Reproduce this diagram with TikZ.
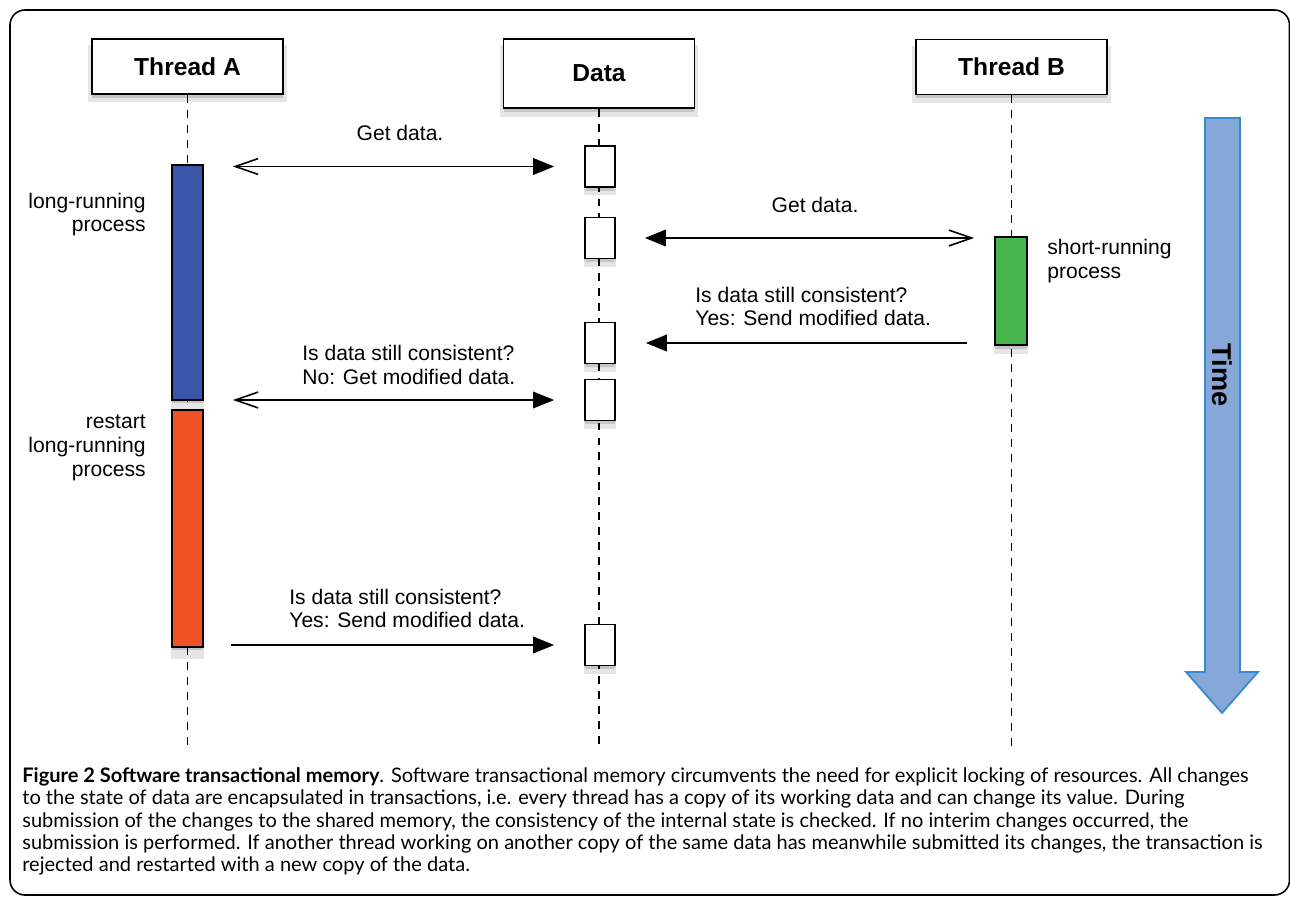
\documentclass[tikz,border=0pt]{standalone}
\usepackage{fontspec}
\setmainfont{Liberation Sans}
\newfontfamily\capfont{Lato}
\usetikzlibrary{arrows.meta,positioning,shadows}
\definecolor{BarBlue}{RGB}{58,86,168}
\definecolor{BarRed}{RGB}{240,82,36}
\definecolor{BarGreen}{RGB}{68,181,74}
\definecolor{TimeFill}{RGB}{134,168,217}
\definecolor{TimeEdge}{RGB}{52,140,204}
\tikzset{
  soft/.style={drop shadow={shadow xshift=0pt,shadow yshift=-2pt,opacity=.14,fill=black},
    drop shadow={shadow xshift=0pt,shadow yshift=-4pt,shadow scale=1.04,opacity=.1,fill=black}},
  lane/.style={draw,line width=1.1pt,fill=white,soft,minimum width=3.82cm,
    minimum height=1.1cm,font=\fontsize{14}{17}\selectfont\bfseries},
  bar/.style={draw,line width=1pt,soft,minimum width=0.62cm,inner sep=0pt},
  slot/.style={draw,line width=1pt,fill=white,soft,minimum width=0.6cm,
    minimum height=0.82cm,inner sep=0pt},
  life/.style={line width=0.8pt,dash pattern=on 4.5pt off 4pt},
  bb/.tip={Straight Barb[length=13pt,width=9pt,line width=0.9pt]},
  tt/.tip={Triangle[length=12pt,width=9.5pt]},
  msg/.style={line width=0.9pt,shorten <=0.58cm,shorten >=0.6cm},
  lbl/.style={font=\fontsize{12}{13.6}\selectfont,inner sep=0pt,align=left}
}

\begin{document}
\begin{tikzpicture}[x=0.02cm,y=-0.02cm]
  \useasboundingbox (0,0) rectangle (1290,898);
  \draw[line width=0.9pt,rounded corners=0.3cm] (10,10) rectangle (1289.5,895);

  % lanes and lifelines
  \node[lane] (ta) at (187.5,66.5) {Thread A};
  \node[lane,minimum height=1.38cm] (dt) at (599,73.5) {Data};
  \node[lane] (tb) at (1011.5,67) {Thread B};
  \coordinate (bottom) at (600,748);
  \draw[life] (ta.south) -- (ta.south |- bottom);
  \draw[life] (dt.south) -- (dt.south |- bottom);
  \draw[life] (tb.south) -- (tb.south |- bottom);

  % processes
  \node[bar,fill=BarBlue,minimum height=4.7cm] (run) at (187.5,282.5) {};
  \node[bar,fill=BarRed,minimum height=4.74cm] (rerun) at (187.5,528.5) {};
  \node[bar,fill=BarGreen,minimum width=0.64cm,minimum height=2.16cm] (short) at (1011,291) {};
  \foreach \n/\y in {1/166.5,2/238,3/343,4/400,5/645}
    \node[slot] (d\n) at (600,\y) {};

  % messages
  \draw[msg,bb-tt] (run.east |- d1.west) -- (d1.west);
  \draw[msg,tt-bb,shorten >=0.4cm] (d2.east) -- (d2.east -| short.west);
  \draw[msg,-tt,shorten <=0.54cm] (short.west |- d3.east) -- (d3.east);
  \draw[msg,bb-tt] (run.east |- d4.west) -- (d4.west);
  \draw[msg,-tt,shorten <=0.54cm] (rerun.east |- d5.west) -- (d5.west);

  \node[lbl] (get1) at (400,133) {Get data.};
  \node[lbl] (get2) at (815,205) {Get data.};
  \node[lbl,anchor=west] (send1) at (695,306.5) {Is data still consistent?\\Yes: Send modified data.};
  \node[lbl,anchor=west] (retry) at (302,365) {Is data still consistent?\\No: Get modified data.};
  \node[lbl,anchor=west] (send2) at (289,608.5) {Is data still consistent?\\Yes: Send modified data.};
  \node[lbl,anchor=east,align=right] (longlbl) at (146,214.5) {long-running\\process};
  \node[lbl,anchor=east,align=right] (restartlbl) at (146,447.5) {restart\\long-running\\process};
  \node[lbl,anchor=west] (shortlbl) at (1047,261) {short-running\\process};

  % time axis
  \filldraw[fill=TimeFill,draw=TimeEdge,line width=1pt]
    (1205,118) -- (1240,118) -- (1240,672) -- (1258,672) -- (1222,713)
    -- (1186,672) -- (1205,672) -- cycle;
  \node[rotate=-90,font=\fontsize{15.5}{18}\selectfont\bfseries] (time) at (1222,375) {Time};

  % caption
  \node[anchor=north west,inner sep=0pt,align=left,
    font=\capfont\fontsize{11.4}{12.75}\selectfont] (cap) at (22,767)
    {\textbf{Figure 2 Software transactional memory}. Software transactional memory circumvents the need for explicit locking of resources. All changes\\
    to the state of data are encapsulated in transactions, i.e. every thread has a copy of its working data and can change its value. During\\
    submission of the changes to the shared memory, the consistency of the internal state is checked. If no interim changes occurred, the\\
    submission is performed. If another thread working on another copy of the same data has meanwhile submitted its changes, the transaction is\\
    rejected and restarted with a new copy of the data.};
\end{tikzpicture}
\end{document}
